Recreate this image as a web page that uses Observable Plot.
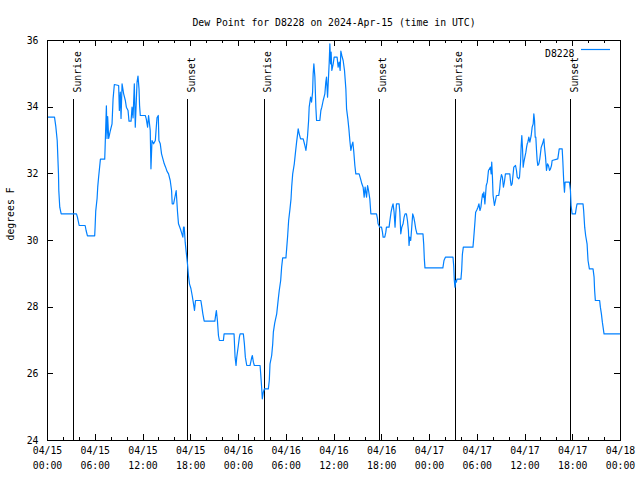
<!DOCTYPE html>
<html>
<head>
<meta charset="utf-8">
<script src="https://cdn.jsdelivr.net/npm/d3@7"></script>
<script src="https://cdn.jsdelivr.net/npm/@observablehq/plot@0.6"></script>
<style>
  html, body { margin: 0; padding: 0; background: white; }
  #chart { position: relative; width: 640px; height: 480px; }
</style>
</head>
<body>
<div id="chart"></div>
<script>
// ---- DATA ----
const titleText = "Dew Point for D8228 on 2024-Apr-15 (time in UTC)";
const yLabel = "degrees F";
const seriesName = "D8228";
// hours since 2024-04-15 00:00 UTC
const hours = [
  0, 0.88, 1.04, 1.22, 1.38, 1.42, 1.54, 1.72, 3.64, 3.76, 3.98, 4.73, 4.85, 5.02, 5.93, 5.98, 6.06, 6.23, 6.31, 6.43,
  6.65, 7.19, 7.24, 7.40, 7.48, 7.56, 7.69, 7.9, 8.11, 8.24, 8.40, 8.94, 9.03, 9.15, 9.24, 9.37, 9.57, 9.78, 9.91, 10.12,
  10.24, 10.5, 10.62, 10.75, 10.91, 11.03, 11.16, 11.25, 11.37, 11.5, 11.57, 11.66, 12.29, 12.41, 12.58, 12.7, 12.91, 13.0, 13.13, 13.33,
  13.55, 13.67, 13.76, 13.92, 14.0, 14.17, 14.33, 14.5, 14.67, 14.84, 15.01, 15.21, 15.42, 15.59, 15.67, 15.84, 16.05, 16.17, 16.34, 16.46,
  16.68, 16.89, 17.01, 17.09, 17.18, 17.3, 17.43, 17.59, 17.71, 17.84, 18.02, 18.18, 18.35, 18.47, 18.6, 18.77, 19.27, 19.4, 19.52, 19.69,
  21.03, 21.15, 21.22, 21.35, 21.48, 21.6, 22.1, 22.19, 23.44, 23.57, 23.69, 23.78, 23.98, 24.11, 24.2, 24.61, 24.74, 24.86, 25.04, 25.45,
  25.54, 25.67, 25.74, 25.87, 25.99, 26.71, 26.79, 26.92, 26.99, 27.12, 27.25, 27.75, 27.87, 27.96, 28.17, 28.3, 28.38, 28.55, 28.8, 29.0,
  29.12, 29.3, 29.42, 29.55, 29.96, 30.05, 30.18, 30.3, 30.47, 30.6, 30.68, 30.81, 31.01, 31.14, 31.3, 31.43, 31.5, 31.63, 31.8, 32.13,
  32.34, 32.47, 32.55, 32.68, 32.81, 32.88, 33.06, 33.18, 33.31, 33.38, 33.47, 33.6, 33.72, 33.81, 34.22, 34.35, 34.47, 34.64, 34.85, 34.97,
  35.06, 35.19, 35.26, 35.39, 35.48, 35.57, 35.64, 35.73, 35.9, 36.02, 36.39, 36.52, 36.65, 36.77, 36.86, 36.98, 37.15, 37.32, 37.49, 37.58,
  37.74, 37.87, 37.99, 38.12, 38.24, 38.37, 38.49, 38.62, 38.74, 39.16, 39.34, 39.5, 39.66, 39.79, 39.91, 40.09, 40.22, 40.34, 40.5, 40.63,
  41.34, 41.47, 41.54, 41.75, 41.97, 42.09, 42.17, 42.38, 42.51, 42.59, 42.92, 43.0, 43.17, 43.3, 43.42, 43.55, 43.67, 43.76, 43.85, 44.18,
  44.27, 44.39, 44.52, 44.68, 44.81, 44.93, 45.1, 45.23, 45.35, 45.43, 45.52, 45.64, 45.77, 45.89, 46.02, 46.14, 46.27, 46.43, 47.18, 47.27,
  47.35, 47.43, 49.68, 49.82, 50.0, 50.95, 51.04, 51.12, 51.2, 51.29, 51.38, 51.45, 51.95, 52.04, 52.13, 52.25, 53.46, 53.55, 53.71, 53.8,
  53.96, 54.09, 54.21, 54.34, 54.46, 54.55, 54.67, 54.76, 54.83, 54.96, 55.05, 55.13, 55.26, 55.41, 55.66, 55.75, 55.82, 55.91, 55.99, 56.16,
  56.29, 56.41, 56.7, 56.82, 56.91, 57.04, 57.16, 57.29, 57.41, 57.54, 58.09, 58.17, 58.26, 58.38, 58.51, 58.59, 58.81, 58.93, 59.02, 59.22,
  59.31, 59.44, 59.52, 59.6, 59.69, 59.77, 59.86, 59.94, 60.11, 60.2, 60.28, 60.36, 60.48, 60.61, 60.69, 60.78, 60.9, 61.03, 61.11, 61.2,
  61.28, 61.36, 61.45, 61.53, 61.61, 61.74, 61.86, 62.04, 62.2, 62.37, 62.45, 62.58, 62.7, 62.83, 62.95, 63.08, 63.2, 63.33, 63.41, 64.12,
  64.3, 64.67, 64.75, 64.87, 64.96, 65.04, 65.58, 65.71, 65.79, 65.92, 66.33, 66.46, 66.54, 67.29, 67.37, 67.5, 67.62, 67.8, 67.92, 68.09,
  68.55, 68.68, 68.75, 68.84, 69.38, 69.47, 69.6, 69.72, 69.81, 69.93, 71.9
];
// dew point, degrees F
const dewpt = [
  33.7, 33.7, 33.43, 33.0, 32.0, 31.5, 31.0, 30.8, 30.8, 30.7, 30.45, 30.45, 30.3, 30.14, 30.14, 30.4, 30.88, 31.26, 31.6, 31.92,
  32.44, 32.44, 32.8, 34.04, 33.06, 33.72, 33.06, 33.3, 33.5, 34.25, 34.68, 34.65, 33.9, 34.45, 33.66, 34.7, 34.4, 34.2, 34.0, 33.9,
  33.58, 33.58, 34.0, 33.68, 34.7, 33.4, 34.2, 34.75, 34.93, 34.55, 34.05, 33.75, 33.75, 33.65, 33.4, 33.75, 33.3, 32.15, 33.0, 32.9,
  33.0, 33.4, 33.68, 33.75, 33.0, 32.9, 32.6, 32.45, 32.3, 32.2, 32.08, 32.0, 31.8, 31.5, 31.1, 31.1, 31.35, 31.5, 30.85, 30.5,
  30.36, 30.2, 30.1, 30.4, 30.4, 29.95, 29.65, 29.3, 28.95, 28.7, 28.56, 28.35, 28.1, 27.9, 28.2, 28.2, 28.2, 28.0, 27.8, 27.58,
  27.58, 27.8, 27.9, 27.6, 27.15, 27.0, 27.0, 27.2, 27.2, 26.5, 26.25, 26.5, 26.85, 27.1, 27.2, 27.2, 26.9, 26.5, 26.25, 26.25,
  26.35, 26.5, 26.55, 26.35, 26.25, 26.25, 26.0, 25.55, 25.25, 25.45, 25.55, 25.55, 25.8, 26.3, 26.55, 26.9, 27.25, 27.52, 27.8, 28.25,
  28.5, 28.8, 29.2, 29.48, 29.48, 29.75, 30.15, 30.6, 30.95, 31.25, 31.6, 32.0, 32.3, 32.6, 32.95, 33.2, 33.35, 33.2, 33.05, 33.05,
  32.85, 32.7, 32.85, 33.15, 33.6, 34.0, 34.3, 34.15, 34.45, 35.0, 35.3, 34.9, 34.0, 33.6, 33.6, 33.9, 34.0, 34.2, 34.4, 34.75,
  34.9, 34.3, 34.65, 35.3, 35.9, 35.3, 35.65, 35.1, 35.3, 35.5, 35.5, 35.2, 35.35, 35.1, 35.68, 35.55, 35.4, 35.1, 34.55, 33.95,
  33.65, 33.35, 33.0, 32.7, 32.85, 32.95, 32.65, 32.25, 32.0, 32.0, 31.85, 31.7, 31.6, 31.3, 31.6, 31.3, 31.65, 31.5, 31.25, 30.8,
  30.8, 30.65, 30.5, 30.4, 30.4, 30.25, 30.1, 30.1, 30.25, 30.4, 30.4, 30.55, 30.85, 31.0, 31.1, 30.85, 30.4, 30.8, 31.1, 31.1,
  30.85, 30.2, 30.4, 30.5, 30.7, 30.8, 30.8, 30.6, 30.3, 29.85, 30.1, 30.0, 30.4, 30.8, 30.7, 30.55, 30.35, 30.2, 30.2, 29.9,
  29.45, 29.18, 29.18, 29.4, 29.5, 29.5, 29.25, 28.8, 28.6, 28.8, 28.75, 28.84, 28.84, 29.1, 29.58, 29.8, 29.8, 30.05, 30.55, 30.85,
  30.92, 31.0, 31.1, 30.9, 31.0, 31.2, 31.4, 31.3, 31.45, 31.1, 31.4, 31.65, 31.75, 32.1, 32.2, 32.0, 32.35, 31.9, 31.35, 31.05,
  31.2, 31.35, 31.35, 31.55, 31.8, 31.98, 31.9, 31.6, 31.75, 32.0, 32.0, 31.8, 31.65, 31.7, 32.0, 32.2, 32.25, 32.1, 31.9, 31.85,
  31.9, 32.35, 32.85, 33.15, 32.75, 32.2, 32.35, 32.45, 32.65, 32.8, 32.9, 32.95, 33.1, 32.95, 33.05, 33.15, 33.4, 33.5, 33.8, 33.6,
  33.1, 33.1, 32.7, 32.4, 32.25, 32.3, 32.45, 32.8, 32.9, 33.05, 32.8, 32.5, 32.1, 32.3, 32.25, 32.1, 32.15, 32.25, 32.4, 32.45,
  32.75, 32.75, 32.4, 31.75, 31.45, 31.75, 31.75, 31.5, 31.05, 30.8, 30.8, 31.0, 31.1, 31.1, 30.9, 30.4, 30.15, 29.9, 29.4, 29.15,
  29.15, 28.9, 28.5, 28.2, 28.2, 28.0, 27.8, 27.55, 27.4, 27.2, 27.2
];
// sunrise / sunset, hours since 2024-04-15 00:00 UTC
const sunEventHours = [3.3, 17.6, 27.27, 41.68, 51.22, 65.75];
const sunEventLabels = ["Sunrise", "Sunset", "Sunrise", "Sunset", "Sunrise", "Sunset"];
const yTicks = [24, 26, 28, 30, 32, 34, 36];

// ---- BUILD ----
const t0 = Date.UTC(2024, 3, 15);
const toDate = h => new Date(t0 + h * 3600e3);
const start = toDate(0), end = toDate(72);
const data = hours.map((h, i) => ({time: toDate(h), value: dewpt[i]}));
const sun = sunEventHours.map((h, i) => ({time: toDate(h), label: sunEventLabels[i]}));
const majorTicks = d3.utcHour.every(6).range(start, new Date(+end + 1));
const minorTicks = d3.utcHour.every(2).range(start, new Date(+end + 1)).filter(d => d.getUTCHours() % 6 !== 0);

const W = 640, H = 480, mL = 47, mR = 20, mT = 40, mB = 40;
const innerW = W - mL - mR, innerH = H - mT - mB;
const lineColor = "#0080ff";
const fmtDay = d3.utcFormat("%m/%d"), fmtTime = d3.utcFormat("%H:%M");
const crisp = {shapeRendering: "crispEdges"};

const svg = Plot.plot({
  width: W, height: H,
  marginLeft: mL, marginRight: mR, marginTop: mT, marginBottom: mB,
  style: {fontFamily: "'DejaVu Sans Mono', monospace", fontSize: "9.8px", background: "white", color: "black"},
  x: {type: "utc", domain: [start, end], axis: null},
  y: {domain: [24, 36], axis: null},
  marks: [
    // inward ticks
    Plot.ruleX(majorTicks, {x: d => d, insetTop: innerH - 6, stroke: "black", ...crisp}),
    Plot.ruleX(majorTicks, {x: d => d, insetBottom: innerH - 6, stroke: "black", ...crisp}),
    Plot.ruleX(minorTicks, {x: d => d, insetTop: innerH - 3, stroke: "black", ...crisp}),
    Plot.ruleX(minorTicks, {x: d => d, insetBottom: innerH - 3, stroke: "black", ...crisp}),
    Plot.ruleY(yTicks, {y: d => d, insetRight: innerW - 6, stroke: "black", ...crisp}),
    Plot.ruleY(yTicks, {y: d => d, insetLeft: innerW - 6, stroke: "black", ...crisp}),
    // sunrise / sunset
    Plot.ruleX(sun, {x: "time", insetTop: 59, stroke: "black", strokeWidth: 1, ...crisp}),
    Plot.text(sun, {x: "time", text: "label", frameAnchor: "top", dy: 52, rotate: -90, textAnchor: "start", fill: "black"}),
    // data
    Plot.line(data, {x: "time", y: "value", stroke: lineColor, strokeWidth: 1.2}),
    Plot.frame({stroke: "black", ...crisp}),
    // tick labels
    Plot.text(yTicks, {y: d => d, text: d => String(d), frameAnchor: "left", dx: -9, textAnchor: "end", fill: "black"}),
    Plot.text(majorTicks, {x: d => d, text: d => fmtDay(d), frameAnchor: "bottom", dy: 13, fill: "black"}),
    Plot.text(majorTicks, {x: d => d, text: d => fmtTime(d), frameAnchor: "bottom", dy: 28, fill: "black"}),
    // title, y label, legend text
    Plot.text([titleText], {text: d => d, frameAnchor: "top", dy: -21, fill: "black"}),
    Plot.text([yLabel], {text: d => d, frameAnchor: "left", dx: -37, rotate: -90, fill: "black"}),
    Plot.text([seriesName], {text: d => d, frameAnchor: "top-right", dx: -46, dy: 10, textAnchor: "end", fill: "black"})
  ]
});
// legend sample line
d3.select(svg).append("line")
  .attr("x1", W - mR - 39).attr("x2", W - mR - 10)
  .attr("y1", mT + 9.5).attr("y2", mT + 9.5)
  .attr("stroke", lineColor).attr("stroke-width", 1.2);
document.getElementById("chart").appendChild(svg);
</script>
</body>
</html>
